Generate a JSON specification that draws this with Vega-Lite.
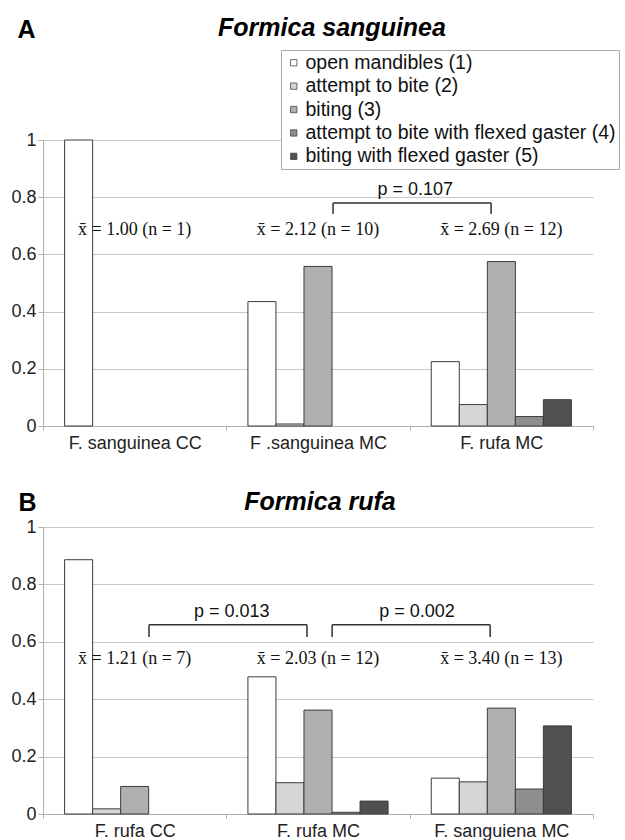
{
  "$schema": "https://vega.github.io/schema/vega-lite/v6.json",
  "background": "white",
  "padding": {"left": 10, "top": 16, "right": 5, "bottom": 0},
  "spacing": 38,
  "config": {
    "view": {"stroke": null},
    "font": "Liberation Sans",
    "axis": {
      "labelFont": "Liberation Sans",
      "labelFontSize": 18,
      "labelColor": "#222222",
      "domainColor": "#b0b0b0",
      "tickColor": "#b0b0b0",
      "gridColor": "#c8c8c8"
    }
  },
  "datasets": {
    "barsA": [
      {"group": "F. sanguinea CC", "behaviour": "open mandibles (1)", "value": 1.0},
      {"group": "F .sanguinea MC", "behaviour": "open mandibles (1)", "value": 0.435},
      {"group": "F .sanguinea MC", "behaviour": "attempt to bite (2)", "value": 0.007},
      {"group": "F .sanguinea MC", "behaviour": "biting (3)", "value": 0.558},
      {"group": "F. rufa MC", "behaviour": "open mandibles (1)", "value": 0.225},
      {"group": "F. rufa MC", "behaviour": "attempt to bite (2)", "value": 0.075},
      {"group": "F. rufa MC", "behaviour": "biting (3)", "value": 0.575},
      {"group": "F. rufa MC", "behaviour": "attempt to bite with flexed gaster (4)", "value": 0.033},
      {"group": "F. rufa MC", "behaviour": "biting with flexed gaster (5)", "value": 0.092}
    ],
    "notesA": [
      {"group": "F. sanguinea CC", "value": 0.685, "label": "x̄ = 1.00 (n = 1)"},
      {"group": "F .sanguinea MC", "value": 0.685, "label": "x̄ = 2.12 (n = 10)"},
      {"group": "F. rufa MC", "value": 0.685, "label": "x̄ = 2.69 (n = 12)"}
    ],
    "bracketsA": [
      {"x1": 1.582, "x2": 2.444, "ytop": 0.78, "ybot": 0.741, "px": 2.03, "py": 0.825, "p": "p = 0.107"}
    ],
    "barsB": [
      {"group": "F. rufa CC", "behaviour": "open mandibles (1)", "value": 0.886},
      {"group": "F. rufa CC", "behaviour": "attempt to bite (2)", "value": 0.018},
      {"group": "F. rufa CC", "behaviour": "biting (3)", "value": 0.096},
      {"group": "F. rufa MC", "behaviour": "open mandibles (1)", "value": 0.478},
      {"group": "F. rufa MC", "behaviour": "attempt to bite (2)", "value": 0.109},
      {"group": "F. rufa MC", "behaviour": "biting (3)", "value": 0.362},
      {"group": "F. rufa MC", "behaviour": "attempt to bite with flexed gaster (4)", "value": 0.006},
      {"group": "F. rufa MC", "behaviour": "biting with flexed gaster (5)", "value": 0.045},
      {"group": "F. sanguiena MC", "behaviour": "open mandibles (1)", "value": 0.125},
      {"group": "F. sanguiena MC", "behaviour": "attempt to bite (2)", "value": 0.112},
      {"group": "F. sanguiena MC", "behaviour": "biting (3)", "value": 0.369},
      {"group": "F. sanguiena MC", "behaviour": "attempt to bite with flexed gaster (4)", "value": 0.087},
      {"group": "F. sanguiena MC", "behaviour": "biting with flexed gaster (5)", "value": 0.307}
    ],
    "notesB": [
      {"group": "F. rufa CC", "value": 0.54, "label": "x̄ = 1.21 (n = 7)"},
      {"group": "F. rufa MC", "value": 0.54, "label": "x̄ = 2.03 (n = 12)"},
      {"group": "F. sanguiena MC", "value": 0.54, "label": "x̄ = 3.40 (n = 13)"}
    ],
    "bracketsB": [
      {"x1": 0.578, "x2": 1.44, "ytop": 0.659, "ybot": 0.617, "px": 1.03, "py": 0.704, "p": "p = 0.013"},
      {"x1": 1.577, "x2": 2.439, "ytop": 0.659, "ybot": 0.617, "px": 2.04, "py": 0.704, "p": "p = 0.002"}
    ]
  },
  "resolve": {"legend": {"color": "independent"}},
  "vconcat": [
    {
      "width": 550,
      "height": 286,
      "title": {"text": "Formica sanguinea", "fontSize": 25, "fontStyle": "italic", "fontWeight": "bold", "font": "Liberation Sans", "anchor": "middle", "dx": 14, "offset": -24, "color": "#000000"},
      "resolve": {"scale": {"x": "independent"}, "axis": {"x": "independent"}},
      "layer": [
        {
          "data": {"name": "barsA"},
          "mark": {"type": "bar", "stroke": "#3c3c3c", "strokeWidth": 1},
          "encoding": {
            "x": {"field": "group", "type": "nominal", "sort": null, "scale": {"paddingInner": 0, "paddingOuter": 0}, "axis": {"title": null, "labelAngle": 0, "tickBand": "extent", "tickSize": 4, "labelPadding": 4, "grid": false}},
            "xOffset": {"field": "behaviour", "type": "nominal", "scale": {"domain": ["open mandibles (1)", "attempt to bite (2)", "biting (3)", "attempt to bite with flexed gaster (4)", "biting with flexed gaster (5)"], "paddingInner": 0, "paddingOuter": 0.77}},
            "y": {"field": "value", "type": "quantitative", "scale": {"domain": [0, 1]}, "axis": {"values": [0, 0.2, 0.4, 0.6, 0.8, 1], "format": "~g", "title": "A", "titleAngle": 0, "titleX": -26, "titleY": -103, "titleAlign": "left", "titleBaseline": "alphabetic", "titleFontSize": 25, "titleFontWeight": "bold", "titleFont": "Liberation Sans", "titleColor": "#000000", "tickSize": 5, "labelPadding": 2, "grid": true}},
            "color": {"field": "behaviour", "type": "nominal", "scale": {"domain": ["open mandibles (1)", "attempt to bite (2)", "biting (3)", "attempt to bite with flexed gaster (4)", "biting with flexed gaster (5)"], "range": ["#ffffff", "#d6d6d6", "#b0b0b0", "#8e8e8e", "#505050"]},
              "legend": {"title": null, "orient": "none", "legendX": 238, "legendY": -90, "fillColor": "white", "strokeColor": "#aaaaaa", "padding": 3, "labelFontSize": 19.5, "labelFont": "Liberation Sans", "labelColor": "#111111", "symbolType": "square", "symbolSize": 40, "symbolStrokeColor": "#444444", "symbolStrokeWidth": 0.8, "labelOffset": 2, "rowPadding": 2.4, "labelLimit": 400}}
          }
        },
        {
          "data": {"name": "notesA"},
          "mark": {"type": "text", "font": "Liberation Serif", "fontSize": 18, "color": "#111111"},
          "encoding": {
            "x": {"field": "group", "type": "nominal", "sort": null, "scale": {"type": "point", "padding": 0.5}, "axis": null},
            "y": {"field": "value", "type": "quantitative"},
            "text": {"field": "label"}
          }
        },
        {
          "data": {"name": "bracketsA"},
          "mark": {"type": "rule", "color": "#333333", "strokeWidth": 1.5},
          "encoding": {
            "x": {"field": "x1", "type": "quantitative", "scale": {"domain": [0, 3]}, "axis": null},
            "x2": {"field": "x2"},
            "y": {"field": "ytop", "type": "quantitative"}
          }
        },
        {
          "data": {"name": "bracketsA"},
          "mark": {"type": "rule", "color": "#333333", "strokeWidth": 1.5},
          "encoding": {
            "x": {"field": "x1", "type": "quantitative", "scale": {"domain": [0, 3]}, "axis": null},
            "y": {"field": "ytop", "type": "quantitative"},
            "y2": {"field": "ybot"}
          }
        },
        {
          "data": {"name": "bracketsA"},
          "mark": {"type": "rule", "color": "#333333", "strokeWidth": 1.5},
          "encoding": {
            "x": {"field": "x2", "type": "quantitative", "scale": {"domain": [0, 3]}, "axis": null},
            "y": {"field": "ytop", "type": "quantitative"},
            "y2": {"field": "ybot"}
          }
        },
        {
          "data": {"name": "bracketsA"},
          "mark": {"type": "text", "font": "Liberation Sans", "fontSize": 18, "color": "#111111"},
          "encoding": {
            "x": {"field": "px", "type": "quantitative", "scale": {"domain": [0, 3]}, "axis": null},
            "y": {"field": "py", "type": "quantitative"},
            "text": {"field": "p"}
          }
        }
      ]
    },
    {
      "width": 550,
      "height": 287,
      "title": {"text": "Formica rufa", "fontSize": 25, "fontStyle": "italic", "fontWeight": "bold", "font": "Liberation Sans", "anchor": "middle", "dx": 2, "offset": -25, "color": "#000000"},
      "resolve": {"scale": {"x": "independent"}, "axis": {"x": "independent"}},
      "layer": [
        {
          "data": {"name": "barsB"},
          "mark": {"type": "bar", "stroke": "#3c3c3c", "strokeWidth": 1},
          "encoding": {
            "x": {"field": "group", "type": "nominal", "sort": null, "scale": {"paddingInner": 0, "paddingOuter": 0}, "axis": {"title": null, "labelAngle": 0, "tickBand": "extent", "tickSize": 4, "labelPadding": 4, "grid": false}},
            "xOffset": {"field": "behaviour", "type": "nominal", "scale": {"domain": ["open mandibles (1)", "attempt to bite (2)", "biting (3)", "attempt to bite with flexed gaster (4)", "biting with flexed gaster (5)"], "paddingInner": 0, "paddingOuter": 0.77}},
            "y": {"field": "value", "type": "quantitative", "scale": {"domain": [0, 1]}, "axis": {"values": [0, 0.2, 0.4, 0.6, 0.8, 1], "format": "~g", "title": "B", "titleAngle": 0, "titleX": -25, "titleY": -17, "titleAlign": "left", "titleBaseline": "alphabetic", "titleFontSize": 25, "titleFontWeight": "bold", "titleFont": "Liberation Sans", "titleColor": "#000000", "tickSize": 5, "labelPadding": 2, "grid": true}},
            "color": {"field": "behaviour", "type": "nominal", "scale": {"domain": ["open mandibles (1)", "attempt to bite (2)", "biting (3)", "attempt to bite with flexed gaster (4)", "biting with flexed gaster (5)"], "range": ["#ffffff", "#d6d6d6", "#b0b0b0", "#8e8e8e", "#505050"]}, "legend": null}
          }
        },
        {
          "data": {"name": "notesB"},
          "mark": {"type": "text", "font": "Liberation Serif", "fontSize": 18, "color": "#111111"},
          "encoding": {
            "x": {"field": "group", "type": "nominal", "sort": null, "scale": {"type": "point", "padding": 0.5}, "axis": null},
            "y": {"field": "value", "type": "quantitative"},
            "text": {"field": "label"}
          }
        },
        {
          "data": {"name": "bracketsB"},
          "mark": {"type": "rule", "color": "#333333", "strokeWidth": 1.5},
          "encoding": {
            "x": {"field": "x1", "type": "quantitative", "scale": {"domain": [0, 3]}, "axis": null},
            "x2": {"field": "x2"},
            "y": {"field": "ytop", "type": "quantitative"}
          }
        },
        {
          "data": {"name": "bracketsB"},
          "mark": {"type": "rule", "color": "#333333", "strokeWidth": 1.5},
          "encoding": {
            "x": {"field": "x1", "type": "quantitative", "scale": {"domain": [0, 3]}, "axis": null},
            "y": {"field": "ytop", "type": "quantitative"},
            "y2": {"field": "ybot"}
          }
        },
        {
          "data": {"name": "bracketsB"},
          "mark": {"type": "rule", "color": "#333333", "strokeWidth": 1.5},
          "encoding": {
            "x": {"field": "x2", "type": "quantitative", "scale": {"domain": [0, 3]}, "axis": null},
            "y": {"field": "ytop", "type": "quantitative"},
            "y2": {"field": "ybot"}
          }
        },
        {
          "data": {"name": "bracketsB"},
          "mark": {"type": "text", "font": "Liberation Sans", "fontSize": 18, "color": "#111111"},
          "encoding": {
            "x": {"field": "px", "type": "quantitative", "scale": {"domain": [0, 3]}, "axis": null},
            "y": {"field": "py", "type": "quantitative"},
            "text": {"field": "p"}
          }
        }
      ]
    }
  ]
}
